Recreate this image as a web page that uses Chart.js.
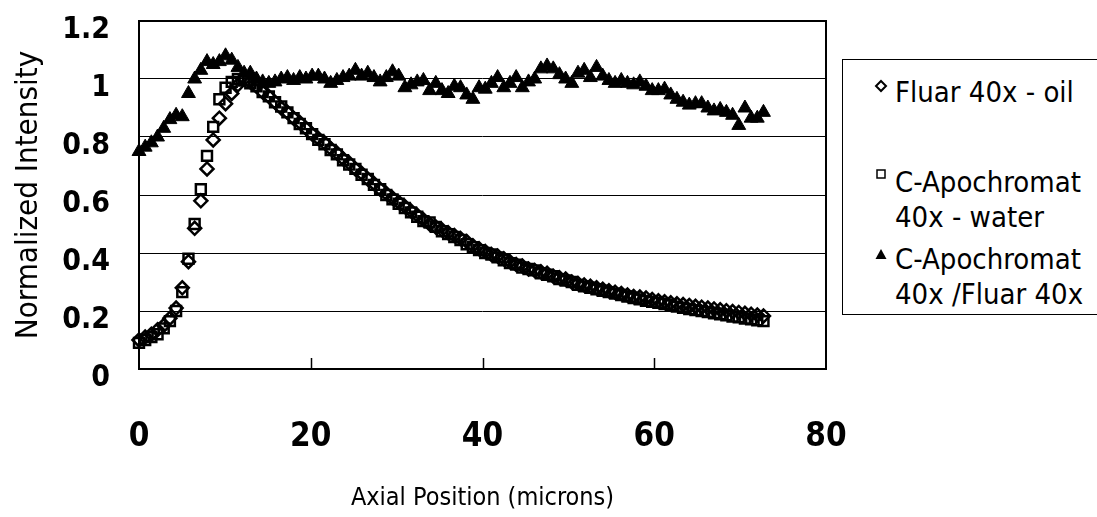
<!DOCTYPE html>
<html>
<head>
<meta charset="utf-8">
<script src="https://cdn.jsdelivr.net/npm/chart.js@4.4.1/dist/chart.umd.min.js"></script>
<style>
  body { margin: 0; background: #fff; }
  #wrap { position: relative; width: 1097px; height: 517px; }
  #legend {
    position: absolute; left: 842px; top: 59px; width: 270px; height: 256px;
    border: 1px solid #000; box-sizing: border-box; background: #fff;
    font-family: "Liberation Sans Narrow", "DejaVu Sans Condensed", sans-serif;
    font-size: 29px; color: #000;
  }
  .entry { position: absolute; left: 52px; line-height: 35px; white-space: nowrap; }
  .mk { position: absolute; left: 31px; }
</style>
</head>
<body>
<div id="wrap">
  <canvas id="chart" width="1097" height="517"></canvas>
  <div id="legend">
    <svg class="mk" style="top:19px" width="14" height="14"><path d="M7 2 L12 7 L7 12 L2 7 Z" fill="none" stroke="#000" stroke-width="2"/></svg>
    <div class="entry" style="top:15px">Fluar 40x - oil</div>
    <svg class="mk" style="top:107px" width="14" height="14"><rect x="3" y="3" width="8" height="8" fill="none" stroke="#000" stroke-width="1.5"/></svg>
    <div class="entry" style="top:105px">C-Apochromat<br>40x - water</div>
    <svg class="mk" style="top:187px" width="14" height="14"><path d="M7 2 L12.5 12 L1.5 12 Z" fill="#000"/></svg>
    <div class="entry" style="top:182px">C-Apochromat<br>40x /Fluar 40x</div>
  </div>
</div>
<script>
// axial positions (microns), sampled every 0.72
const axialPos = [
  0, 0.72, 1.44, 2.16, 2.88, 3.6, 4.32, 5.04, 5.76, 6.48,
  7.2, 7.92, 8.64, 9.36, 10.08, 10.8, 11.52, 12.24, 12.96, 13.68,
  14.4, 15.12, 15.84, 16.56, 17.28, 18, 18.72, 19.44, 20.16, 20.88,
  21.6, 22.32, 23.04, 23.76, 24.48, 25.2, 25.92, 26.64, 27.36, 28.08,
  28.8, 29.52, 30.24, 30.96, 31.68, 32.4, 33.12, 33.84, 34.56, 35.28,
  36, 36.72, 37.44, 38.16, 38.88, 39.6, 40.32, 41.04, 41.76, 42.48,
  43.2, 43.92, 44.64, 45.36, 46.08, 46.8, 47.52, 48.24, 48.96, 49.68,
  50.4, 51.12, 51.84, 52.56, 53.28, 54, 54.72, 55.44, 56.16, 56.88,
  57.6, 58.32, 59.04, 59.76, 60.48, 61.2, 61.92, 62.64, 63.36, 64.08,
  64.8, 65.52, 66.24, 66.96, 67.68, 68.4, 69.12, 69.84, 70.56, 71.28,
  72, 72.72
];

// Fluar 40x - oil (diamonds)
const fluarOil = [
  0.10, 0.11, 0.12, 0.135, 0.15, 0.175, 0.21, 0.28, 0.37, 0.485,
  0.58, 0.69, 0.79, 0.865, 0.915, 0.95, 0.98, 1.00, 0.99, 0.975,
  0.955, 0.94, 0.92, 0.90, 0.885, 0.865, 0.85, 0.83, 0.81, 0.795,
  0.78, 0.76, 0.745, 0.725, 0.71, 0.69, 0.675, 0.655, 0.64, 0.62,
  0.605, 0.59, 0.575, 0.56, 0.545, 0.53, 0.515, 0.50, 0.49, 0.48,
  0.47, 0.46, 0.45, 0.44, 0.425, 0.415, 0.405, 0.395, 0.39, 0.38,
  0.37, 0.36, 0.355, 0.345, 0.34, 0.335, 0.33, 0.32, 0.315, 0.31,
  0.30, 0.295, 0.29, 0.285, 0.28, 0.275, 0.27, 0.265, 0.26, 0.255,
  0.25, 0.248, 0.245, 0.24, 0.235, 0.232, 0.228, 0.225, 0.222, 0.219,
  0.216, 0.213, 0.21, 0.207, 0.204, 0.201, 0.198, 0.195, 0.192, 0.189,
  0.186, 0.183
];

// C-Apochromat 40x - water (squares)
const apoWater = [
  0.09, 0.10, 0.11, 0.12, 0.14, 0.165, 0.20, 0.265, 0.38, 0.50,
  0.62, 0.735, 0.835, 0.93, 0.97, 0.99, 1.00, 0.995, 0.985, 0.975,
  0.955, 0.94, 0.92, 0.905, 0.885, 0.865, 0.845, 0.83, 0.81, 0.79,
  0.775, 0.755, 0.74, 0.72, 0.705, 0.69, 0.67, 0.655, 0.635, 0.62,
  0.60, 0.585, 0.57, 0.555, 0.54, 0.525, 0.51, 0.505, 0.49, 0.475,
  0.465, 0.455, 0.445, 0.43, 0.42, 0.41, 0.40, 0.395, 0.385, 0.375,
  0.365, 0.36, 0.35, 0.345, 0.34, 0.33, 0.325, 0.32, 0.31, 0.305,
  0.30, 0.29, 0.285, 0.28, 0.275, 0.27, 0.265, 0.26, 0.255, 0.25,
  0.245, 0.24, 0.235, 0.232, 0.228, 0.224, 0.22, 0.215, 0.211, 0.207,
  0.203, 0.20, 0.196, 0.192, 0.189, 0.185, 0.181, 0.178, 0.174, 0.171,
  0.168, 0.165
];

// C-Apochromat 40x / Fluar 40x (triangles)
const ratio = [
  0.75, 0.765, 0.78, 0.80, 0.83, 0.86, 0.875, 0.87, 0.95, 1.00,
  1.03, 1.06, 1.05, 1.06, 1.08, 1.065, 1.04, 1.02, 1.02, 1.00,
  0.99, 0.985, 0.99, 1.00, 1.005, 0.995, 1.005, 1.00, 1.01, 1.01,
  1.00, 0.985, 0.995, 1.005, 1.01, 1.03, 1.01, 1.02, 1.005, 0.99,
  1.005, 1.025, 1.01, 0.97, 0.98, 0.99, 0.995, 0.96, 0.985, 0.96,
  0.95, 0.975, 0.97, 0.945, 0.93, 0.97, 0.965, 0.985, 1.005, 0.97,
  0.985, 1.005, 0.97, 0.99, 1.00, 1.035, 1.045, 1.035, 1.015, 1.00,
  0.985, 1.02, 1.03, 1.005, 1.04, 1.01, 0.995, 0.985, 0.995, 0.985,
  0.98, 0.99, 0.975, 0.96, 0.96, 0.965, 0.945, 0.93, 0.92, 0.91,
  0.915, 0.915, 0.90, 0.89, 0.895, 0.885, 0.875, 0.84, 0.90, 0.865,
  0.865, 0.885
];

const xTicks = [0, 20, 40, 60, 80];
const yTicks = [0, 0.2, 0.4, 0.6, 0.8, 1, 1.2];

const FONT = '"Liberation Sans Narrow", "DejaVu Sans Condensed", sans-serif';

function toPoints(ys) {
  return axialPos.map((x, i) => ({ x: x, y: ys[i] }));
}

// frame round the plot area + small inward ticks on the x axis
const framePlugin = {
  id: "frame",
  beforeDatasetsDraw(chart) {
    const { ctx, chartArea: a, scales } = chart;
    ctx.save();
    ctx.strokeStyle = "#000";
    ctx.lineWidth = 2;
    ctx.strokeRect(a.left, a.top, a.right - a.left, a.bottom - a.top);
    ctx.lineWidth = 1.5;
    xTicks.slice(1, -1).forEach(v => {
      const px = Math.round(scales.x.getPixelForValue(v)) + 0.5;
      ctx.beginPath();
      ctx.moveTo(px, a.bottom);
      ctx.lineTo(px, a.bottom - 11);
      ctx.stroke();
    });
    ctx.restore();
  }
};

new Chart(document.getElementById("chart"), {
  type: "scatter",
  data: {
    datasets: [
      {
        label: "Fluar 40x - oil",
        data: toPoints(fluarOil),
        pointStyle: "rectRot",
        pointRadius: 6.5,
        borderColor: "#000",
        backgroundColor: "rgba(0,0,0,0)",
        borderWidth: 2.5,
        clip: false,
        order: 2
      },
      {
        label: "C-Apochromat 40x - water",
        data: toPoints(apoWater),
        pointStyle: "rect",
        pointRadius: 7,
        borderColor: "#000",
        backgroundColor: "rgba(0,0,0,0)",
        borderWidth: 2.5,
        clip: false,
        order: 1
      },
      {
        label: "C-Apochromat 40x /Fluar 40x",
        data: toPoints(ratio),
        pointStyle: "triangle",
        pointRadius: 8,
        borderColor: "#000",
        backgroundColor: "#000",
        borderWidth: 1,
        clip: false,
        order: 0
      }
    ]
  },
  options: {
    responsive: false,
    animation: false,
    devicePixelRatio: 1,
    layout: { padding: { top: 21, right: 271, bottom: 0, left: 0 } },
    plugins: { legend: { display: false }, tooltip: { enabled: false } },
    scales: {
      x: {
        type: "linear",
        min: 0,
        max: 80,
        afterBuildTicks: s => { s.ticks = xTicks.map(v => ({ value: v })); },
        afterFit: s => { s.height = 148; s.paddingLeft = 0; s.paddingRight = 0; },
        grid: { display: false, drawTicks: false },
        border: { display: false },
        ticks: { color: "#000", padding: 49, font: { family: FONT, size: 33, weight: "bold" } },
        title: {
          display: true,
          text: "Axial Position (microns)",
          color: "#000",
          font: { family: FONT, size: 25 },
          padding: { top: 0, bottom: 4 }
        }
      },
      y: {
        min: 0,
        max: 1.2,
        afterBuildTicks: s => { s.ticks = yTicks.map(v => ({ value: v })); },
        afterFit: s => { s.width = 139; s.paddingTop = 0; s.paddingBottom = 0; },
        grid: { color: "#000", lineWidth: 1, drawTicks: false },
        border: { display: false },
        ticks: {
          color: "#000",
          padding: 29,
          labelOffset: 9,
          font: { family: FONT, size: 30, weight: "bold" },
          callback: v => String(Math.round(v * 10) / 10)
        },
        title: {
          display: true,
          text: "Normalized Intensity",
          color: "#000",
          font: { family: FONT, size: 31 },
          padding: { top: 10, bottom: 0 }
        }
      }
    }
  },
  plugins: [framePlugin]
});
</script>
</body>
</html>
